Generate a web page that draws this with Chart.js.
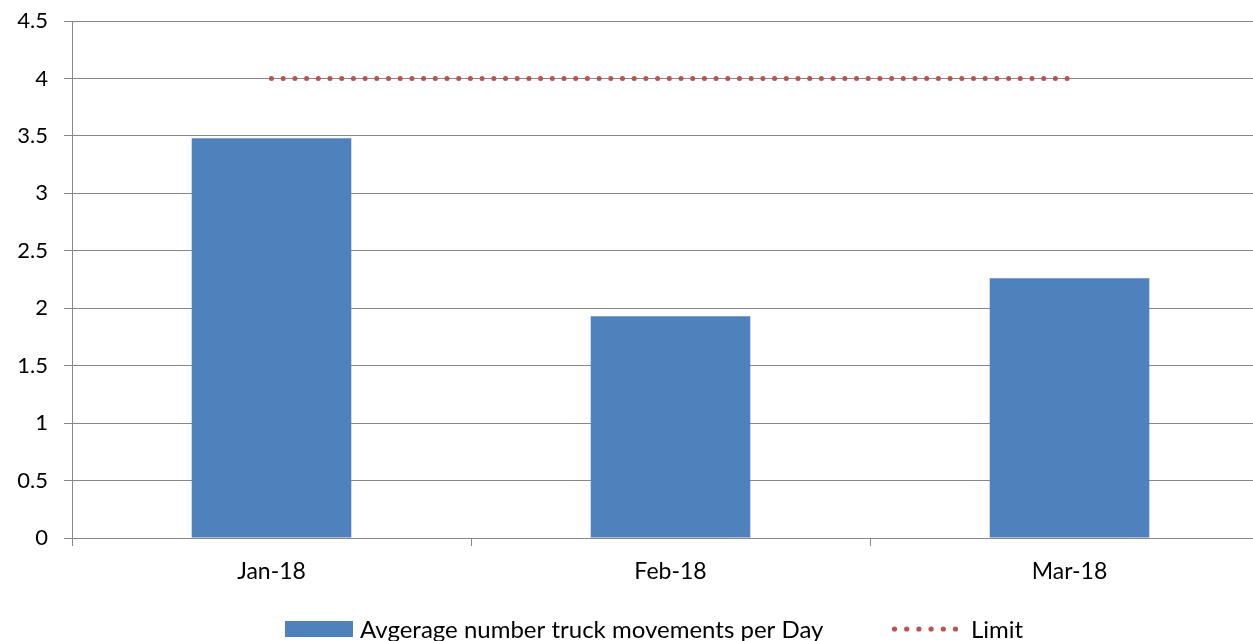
<!DOCTYPE html>
<html>
<head>
<meta charset="utf-8">
<script src="https://cdn.jsdelivr.net/npm/chart.js@4"></script>
<style>
  html, body { margin: 0; padding: 0; background: #fff; }
  #wrap { width: 1253px; height: 641px; position: relative; overflow: hidden; }
  canvas { display: block; }
</style>
</head>
<body>
<!-- plot area runs slightly past the right edge in the original, so the canvas is a bit wider and clipped -->
<div id="wrap"><canvas id="c" width="1269" height="641"></canvas></div>
<script>
const months = ["Jan-18", "Feb-18", "Mar-18"];
const truckMoves = [3.48, 1.93, 2.26];
const limit = [4, 4, 4];
const yTicks = [0, 0.5, 1, 1.5, 2, 2.5, 3, 3.5, 4, 4.5];

const FONT = "Lato, 'Liberation Sans', sans-serif";
const AXIS = "#878787";
const BLUE = "#4F81BD";
const RED = "#C0504D";

// legend drawn by hand so the dotted swatch looks like the original
const bottomLegend = {
  id: "bottomLegend",
  afterDraw(chart) {
    const ctx = chart.ctx;
    ctx.save();
    ctx.font = "24px " + FONT;
    ctx.textBaseline = "middle";
    const y = 629;
    ctx.fillStyle = BLUE;
    ctx.fillRect(285, y - 8, 68, 16);
    ctx.fillStyle = "#000";
    ctx.fillText(chart.data.datasets[1].label, 360, y + 1);
    ctx.fillStyle = RED;
    for (let i = 0; i < 6; i++) {
      ctx.beginPath();
      ctx.arc(894.5 + i * 12.2, y, 2.6, 0, Math.PI * 2);
      ctx.fill();
    }
    ctx.fillStyle = "#000";
    ctx.fillText(chart.data.datasets[0].label, 971, y + 1);
    ctx.restore();
  }
};

new Chart(document.getElementById("c"), {
  type: "bar",
  data: {
    labels: months,
    datasets: [
      {
        type: "line",
        label: "Limit",
        data: limit,
        borderColor: RED,
        borderWidth: 5,
        borderDash: [0, 11.7],
        borderCapStyle: "round",
        pointRadius: 0,
        fill: false,
        order: 0
      },
      {
        label: "Avgerage number truck movements per Day",
        data: truckMoves,
        backgroundColor: BLUE,
        barPercentage: 0.4,
        categoryPercentage: 1,
        order: 1
      }
    ]
  },
  options: {
    responsive: false,
    animation: false,
    devicePixelRatio: 1,
    layout: { padding: { top: 21, right: 0, left: 0, bottom: 0 } },
    plugins: { legend: { display: false }, tooltip: { enabled: false } },
    scales: {
      x: {
        offset: true,
        grid: {
          offset: true,
          drawOnChartArea: false,
          drawTicks: true,
          tickLength: 8,
          color: AXIS
        },
        border: { color: AXIS, width: 1 },
        ticks: { color: "#000", font: { family: FONT, size: 23 }, padding: 12 },
        afterFit(scale) { scale.height = 103; }
      },
      y: {
        min: 0,
        max: 4.5,
        afterBuildTicks(scale) { scale.ticks = yTicks.map(v => ({ value: v })); },
        grid: { color: AXIS, lineWidth: 1, tickLength: 8 },
        border: { color: AXIS, width: 1 },
        ticks: {
          color: "#000",
          font: { family: FONT, size: 22 },
          padding: 16,
          callback: v => String(v)
        },
        afterFit(scale) {
          scale.width = 72;
          scale.paddingTop = 0;
          scale.paddingBottom = 0;
        }
      }
    }
  },
  plugins: [bottomLegend]
});
</script>
</body>
</html>
